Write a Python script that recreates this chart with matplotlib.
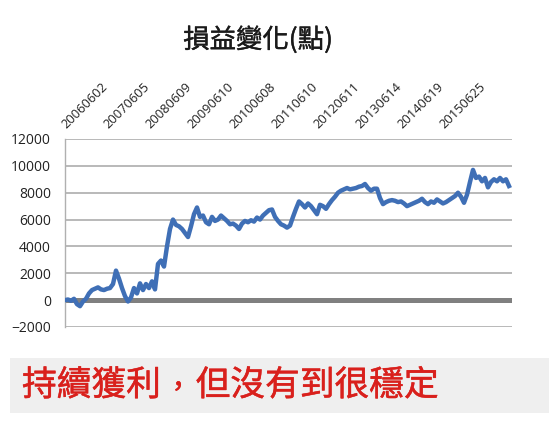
import numpy as np
import matplotlib
matplotlib.use("Agg")
import matplotlib.pyplot as plt
import matplotlib.patheffects as pe
from matplotlib.patches import Rectangle

# cumulative profit/loss (points) at even spacing
pnl = [
    0, 50, -50, 100, -300, -450, -100, 100, 500, 750,
    850, 950, 800, 750, 850, 900, 1200, 2200, 1600, 900,
    300, -100, 200, 900, 500, 1250, 750, 1200, 900, 1400,
    800, 2700, 2950, 2500, 4000, 5300, 6000, 5600, 5500, 5300,
    5000, 4700, 5500, 6400, 6900, 6200, 6300, 5800, 5650, 6200,
    5900, 6000, 6300, 6100, 5900, 5650, 5700, 5550, 5300, 5700,
    5900, 5800, 5950, 5850, 6150, 6000, 6300, 6500, 6700, 6750,
    6200, 5900, 5650, 5550, 5400, 5550, 6200, 6800, 7350, 7150,
    6900, 7200, 7000, 6700, 6400, 7100, 7000, 6800, 7150, 7450,
    7700, 8000, 8150, 8250, 8350, 8250, 8300, 8350, 8450, 8500,
    8650, 8350, 8150, 8300, 8300, 7600, 7150, 7300, 7400, 7450,
    7400, 7300, 7350, 7200, 7000, 7100, 7200, 7300, 7400, 7550,
    7300, 7150, 7350, 7250, 7500, 7350, 7200, 7300, 7450, 7600,
    7750, 8000, 7700, 7250, 7850, 8800, 9700, 9100, 9200, 8850,
    9100, 8400, 8800, 9000, 8850, 9100, 8850, 9000, 8500,
]
date_labels = [
    "20060602", "20070605", "20080609", "20090610", "20100608",
    "20110610", "20120611", "20130614", "20140619", "20150625",
]
label_idx = [0, 14, 28, 42, 56, 70, 84, 98, 112, 126]
y_ticks = [-2000, 0, 2000, 4000, 6000, 8000, 10000, 12000]

title = "損益變化(點)"
note = ["持續獲利", "，", "但沒有到很穩定"]

cjk = ["Noto Sans CJK TC", "DejaVu Sans"]
num_font = "Open Sans"

fig = plt.figure(figsize=(5.49, 4.29), dpi=100)
ax = fig.add_axes([65 / 549, 102 / 429, 447 / 549, 188 / 429])

x = np.arange(len(pnl))
ax.plot(x, pnl, color="#3f6fb6", lw=3.2, solid_joinstyle="round", zorder=3)
ax.axhline(0, color="#808080", lw=3.6, zorder=2)

ax.set_xlim(0, 149)
ax.set_ylim(-2000, 12000)
ax.set_yticks(y_ticks)
ax.yaxis.grid(True, color="#a6a6a6", lw=1.1)
ax.set_axisbelow(True)

for side in ["top", "right", "bottom"]:
    ax.spines[side].set_visible(False)
ax.spines["left"].set_color("#b0b0b0")
ax.spines["left"].set_linewidth(1.0)

# date labels sit above the plot, slanted
ax.set_xticks([])
for idx, lab in zip(label_idx, date_labels):
    ax.annotate(lab, xy=(idx, 1), xycoords=("data", "axes fraction"),
                xytext=(0.8, 7.5), textcoords="offset points",
                rotation=45, ha="left", va="baseline", rotation_mode="anchor",
                family=num_font, fontsize=9.3, color="#222222")

ax.tick_params(axis="y", length=0, pad=10, labelsize=10, labelcolor="#222222")
for lbl in ax.get_yticklabels():
    lbl.set_family(num_font)

# a thin stroke in the text colour makes the CJK glyphs a little heavier
title_fx = [pe.withStroke(linewidth=0.3, foreground="#1a1a1a")]
fig.text(0.47, 1 - 40 / 429, title, ha="center", va="center",
         family=cjk, fontsize=19, color="#1a1a1a", path_effects=title_fx)

# grey banner with the red remark
fig.patches.append(Rectangle((10 / 549, 16 / 429), 539 / 549, 55 / 429,
                             transform=fig.transFigure, facecolor="#efefef",
                             edgecolor="none"))
red = "#d9201c"
note_fx = [pe.withStroke(linewidth=0.35, foreground=red)]
cell = 25 * 100 / 72 / 549
x0 = 22 / 549
y0 = 1 - 386 / 429
fig.text(x0, y0, note[0], ha="left", va="center", family=cjk, fontsize=25,
         color=red, path_effects=note_fx)
fig.text(x0 + 4.5 * cell, 1 - 388 / 429, note[1], ha="center", va="center",
         family=cjk, fontsize=20, color=red, path_effects=note_fx)
fig.text(x0 + 5 * cell, y0, note[2], ha="left", va="center", family=cjk,
         fontsize=25, color=red, path_effects=note_fx)

fig.savefig("out.png", dpi=100)
